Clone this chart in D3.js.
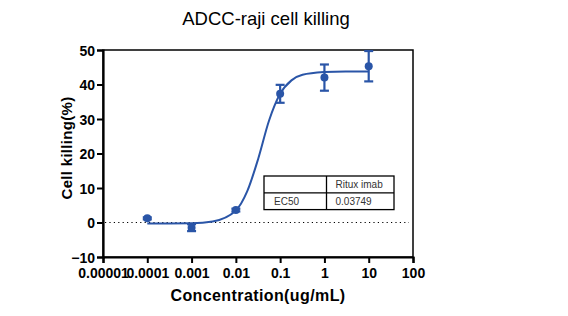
<!DOCTYPE html>
<html>
<head>
<meta charset="utf-8">
<script src="https://cdn.jsdelivr.net/npm/d3@7"></script>
<style>
  body { margin: 0; background: #fff; }
  svg text { font-family: "Liberation Sans", Arial, sans-serif; }
</style>
</head>
<body>
<div id="chart"></div>
<script>
var width = 568,
    height = 316;

// measured points (concentration ug/mL, mean %, sd)
var conc = [0.0001, 0.001, 0.01, 0.1, 1, 10];
var killing = [1.2, -1.5, 3.6, 37.3, 42.0, 45.3];
var errors = [0.3, 1.0, 0.4, 2.6, 3.8, 4.4];

// fitted curve
var curveX = [0.0001, 0.0003, 0.001, 0.003, 0.01, 0.018, 0.032, 0.056, 0.1, 0.18, 0.32, 1, 3, 10];
var curveY = [-0.3, -0.3, -0.25, 0.3, 3.5, 9.0, 18.5, 29.5, 37.3, 41.2, 42.8, 43.6, 43.8, 43.8];

var xTicks = [0.00001, 0.0001, 0.001, 0.01, 0.1, 1, 10, 100];
var xTickLabels = ["0.00001", "0.0001", "0.001", "0.01", "0.1", "1", "10", "100"];
var yTicks = [-10, 0, 10, 20, 30, 40, 50];

var tableHead = ["", "Ritux imab"];
var tableRow = ["EC50", "0.03749"];

var blue = "#2a55a7";

var svg = d3.select("#chart").append("svg")
    .attr("width", width)
    .attr("height", height);

var x = d3.scaleLog().domain([0.00001, 100]).range([103, 413]);
var y = d3.scaleLinear().domain([-10, 50]).range([257, 50]);

// title
svg.append("text")
    .attr("x", 266)
    .attr("y", 25)
    .attr("text-anchor", "middle")
    .style("font-size", "18.5px")
    .text("ADCC-raji cell killing");

// dotted zero line
svg.append("line")
    .attr("x1", x(0.00001) + 2).attr("x2", 409)
    .attr("y1", y(0)).attr("y2", y(0))
    .attr("stroke", "#000")
    .attr("stroke-width", 1.2)
    .attr("stroke-dasharray", "1.2,3.2");

// frame
svg.append("rect")
    .attr("x", 103).attr("y", 50)
    .attr("width", 310).attr("height", 207)
    .attr("fill", "none")
    .attr("stroke", "#000")
    .attr("stroke-width", 1.5);

// axes
var xAxis = svg.append("g")
    .attr("transform", "translate(0," + 257 + ")")
    .call(d3.axisBottom(x).tickValues(xTicks).tickFormat(function(d, i) { return xTickLabels[i]; }).tickSize(6).tickPadding(5));

var yAxis = svg.append("g")
    .attr("transform", "translate(" + 103 + ",0)")
    .call(d3.axisLeft(y).tickValues(yTicks).tickSize(6).tickPadding(2));

[xAxis, yAxis].forEach(function(g) {
    g.select(".domain").attr("stroke-width", 2.2);
    g.selectAll(".tick line").attr("stroke-width", 2);
    g.selectAll(".tick text")
        .style("font-size", "14px")
        .style("font-weight", "bold")
        .attr("fill", "#000");
});
yAxis.selectAll(".tick text").attr("dy", "0.36em");

// axis titles
svg.append("text")
    .attr("x", 258)
    .attr("y", 301)
    .attr("text-anchor", "middle")
    .style("font-size", "16px")
    .style("font-weight", "bold")
    .style("letter-spacing", "0.4px")
    .text("Concentration(ug/mL)");

svg.append("text")
    .attr("transform", "translate(72,148) rotate(-90)")
    .attr("text-anchor", "middle")
    .style("font-size", "15px")
    .style("font-weight", "bold")
    .style("letter-spacing", "0.3px")
    .text("Cell killing(%)");

// fitted curve
var line = d3.line()
    .x(function(d, i) { return x(curveX[i]); })
    .y(function(d) { return y(d); })
    .curve(d3.curveMonotoneX);

svg.append("path")
    .datum(curveY)
    .attr("d", line)
    .attr("fill", "none")
    .attr("stroke", blue)
    .attr("stroke-width", 2);

// error bars
var err = svg.selectAll(".err")
    .data(conc)
    .enter().append("g")
    .attr("class", "err");

err.append("line")
    .attr("x1", function(d) { return x(d); })
    .attr("x2", function(d) { return x(d); })
    .attr("y1", function(d, i) { return y(killing[i] + errors[i]); })
    .attr("y2", function(d, i) { return y(killing[i] - errors[i]); })
    .attr("stroke", blue)
    .attr("stroke-width", 2.2);

[1, -1].forEach(function(s) {
    err.append("line")
        .attr("x1", function(d) { return x(d) - 4.5; })
        .attr("x2", function(d) { return x(d) + 4.5; })
        .attr("y1", function(d, i) { return y(killing[i] + s * errors[i]); })
        .attr("y2", function(d, i) { return y(killing[i] + s * errors[i]); })
        .attr("stroke", blue)
        .attr("stroke-width", 2.2);
});

// points
svg.selectAll(".pt")
    .data(conc)
    .enter().append("circle")
    .attr("class", "pt")
    .attr("cx", function(d) { return x(d); })
    .attr("cy", function(d, i) { return y(killing[i]); })
    .attr("r", 4)
    .attr("fill", blue);

// EC50 table
var tbl = svg.append("g").attr("transform", "translate(264,176)");
var colX = [0, 62.5, 130];
var rowH = 16.8;

tbl.append("rect")
    .attr("width", colX[2]).attr("height", rowH * 2)
    .attr("fill", "#fff")
    .attr("stroke", "#000")
    .attr("stroke-width", 1.3);
tbl.append("line")
    .attr("x1", 0).attr("x2", colX[2])
    .attr("y1", rowH).attr("y2", rowH)
    .attr("stroke", "#000").attr("stroke-width", 1.3);
tbl.append("line")
    .attr("x1", colX[1]).attr("x2", colX[1])
    .attr("y1", 0).attr("y2", rowH * 2)
    .attr("stroke", "#000").attr("stroke-width", 1.3);

[tableHead, tableRow].forEach(function(row, r) {
    row.forEach(function(t, c) {
        tbl.append("text")
            .attr("x", colX[c] + (c === 0 ? 10 : 9))
            .attr("y", r * rowH + 12)
            .style("font-size", "10px")
            .attr("fill", "#333")
            .text(t);
    });
});
</script>
</body>
</html>
